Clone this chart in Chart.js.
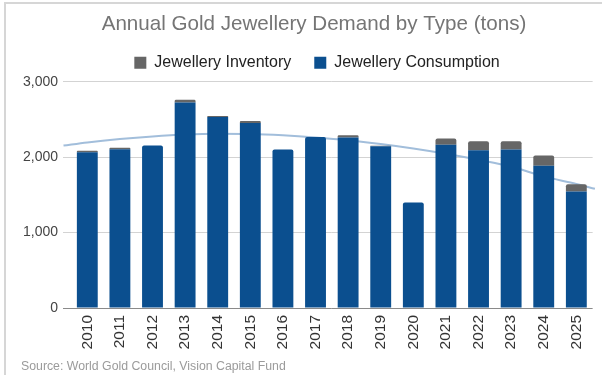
<!DOCTYPE html>
<html>
<head>
<meta charset="utf-8">
<script src="https://cdn.jsdelivr.net/npm/chart.js@4.4.1/dist/chart.umd.min.js"></script>
<style>
  html, body { margin: 0; padding: 0; background: #fff; }
  #wrap { position: relative; width: 602px; height: 375px; overflow: hidden; }
  #frame { position: absolute; left: 4px; top: 2px; width: 700px; height: 500px; border-left: 2px solid #d6d6d6; border-top: 2px solid #d6d6d6; }
  #chart { position: absolute; left: 0; top: 0; }
  #source { position: absolute; left: 21px; top: 359px; font: 12.3px "Liberation Sans", Arial, sans-serif; color: #9b9b9b; white-space: nowrap; }
</style>
</head>
<body>
<div id="wrap">
  <div id="frame"></div>
  <canvas id="chart" width="602" height="375"></canvas>
  <div id="source">Source: World Gold Council, Vision Capital Fund</div>
</div>
<script>
// categories and values (tons)
let years = ["2010", "2011", "2012", "2013", "2014", "2015", "2016", "2017",
             "2018", "2019", "2020", "2021", "2022", "2023", "2024", "2025"];
let consumption = [2064, 2104, 2153, 2726, 2533, 2454, 2100, 2268,
                   2259, 2145, 1399, 2166, 2091, 2100, 1885, 1544];
let inventory = [22, 22, 0, 36, 13, 26, 0, 0,
                 31, 7, 0, 80, 119, 110, 136, 97];
// trend curve, position in category units and value
let trendX = [-0.73, 0, 1, 2, 3, 4, 5, 6, 7, 8, 9, 10, 11, 12, 13, 14, 15, 15.57];
let trendY = [2153, 2195, 2240, 2275, 2300, 2310, 2307, 2290, 2262, 2225,
              2175, 2115, 2045, 1965, 1875, 1745, 1645, 1580];
let yTicks = [0, 1000, 2000, 3000];

const fontFamily = "'Liberation Sans', Arial, sans-serif";
const blue = "#0b4f8f";
const grey = "#666666";

// title + legend are centred around x=315 in the original, not mid canvas
const headerShift = {
    id: "headerShift",
    afterLayout(chart) {
        let t = chart.titleBlock;
        let l = chart.legend;
        if (t) { t.left = 0; t.right = 628; t.top += 4; t.bottom += 4; }
        if (l) { l.left = 0; l.right = 634; l.top -= 1; l.bottom -= 1; }
    }
};

const data = {
    labels: years,
    datasets: [
        {
            type: "line",
            label: "Trend",
            data: trendX.map((x, i) => ({ x: x, y: trendY[i] })),
            xAxisID: "xt",
            borderColor: "#a2bedb",
            borderWidth: 2,
            pointRadius: 0,
            cubicInterpolationMode: "monotone",
            clip: false,
            order: 1,
        },
        {
            type: "bar",
            label: "Jewellery Consumption",
            data: consumption,
            xAxisID: "x",
            backgroundColor: blue,
            borderRadius: 2,
            borderSkipped: "middle",
        },
        {
            type: "bar",
            label: "Jewellery Inventory",
            data: inventory,
            xAxisID: "x",
            backgroundColor: grey,
            borderRadius: 2,
            borderSkipped: "middle",
        },
    ],
};

const config = {
    type: "bar",
    data: data,
    plugins: [headerShift],
    options: {
        responsive: false,
        animation: false,
        devicePixelRatio: 1,
        layout: { padding: { left: 0, right: 2, top: 0, bottom: 0 } },
        datasets: {
            // one bar per year, both series share the same column
            bar: { grouped: false, barPercentage: 0.64, categoryPercentage: 1 },
        },
        plugins: {
            title: {
                display: true,
                text: "Annual Gold Jewellery Demand by Type (tons)",
                color: "#757575",
                font: { family: fontFamily, size: 20.6, weight: "normal" },
                padding: { top: 8, bottom: 0 },
            },
            legend: {
                display: true,
                reverse: true,
                labels: {
                    filter: (item) => item.text !== "Trend",
                    boxWidth: 12,
                    boxHeight: 12,
                    padding: 23,
                    color: "#222",
                    font: { family: fontFamily, size: 16 },
                },
            },
            tooltip: { enabled: false },
        },
        scales: {
            x: {
                type: "category",
                stacked: true,
                offset: true,
                grid: { display: false, drawTicks: false },
                border: { display: false },
                ticks: {
                    color: "#333",
                    font: { family: fontFamily, size: 15.5 },
                    minRotation: 90,
                    maxRotation: 90,
                    autoSkip: false,
                    padding: 7,
                },
                afterFit: (scale) => { scale.height = 67; },
            },
            xt: {
                type: "linear",
                display: false,
                offset: false,
                min: -0.5,
                max: 15.5,
            },
            y: {
                stacked: true,
                min: 0,
                max: 3000,
                afterBuildTicks: (scale) => { scale.ticks = yTicks.map((v) => ({ value: v })); },
                grid: {
                    color: (ctx) => (ctx.tick && ctx.tick.value === 0 ? "#8a8a8a" : "#d3d3d3"),
                    tickLength: 8,
                    lineWidth: 1,
                },
                border: { display: false },
                ticks: {
                    color: "#444",
                    font: { family: fontFamily, size: 14 },
                    padding: 5,
                },
                afterFit: (scale) => { scale.width = 71; },
            },
        },
    },
};

const myChart = new Chart(document.getElementById("chart"), config);
</script>
</body>
</html>
